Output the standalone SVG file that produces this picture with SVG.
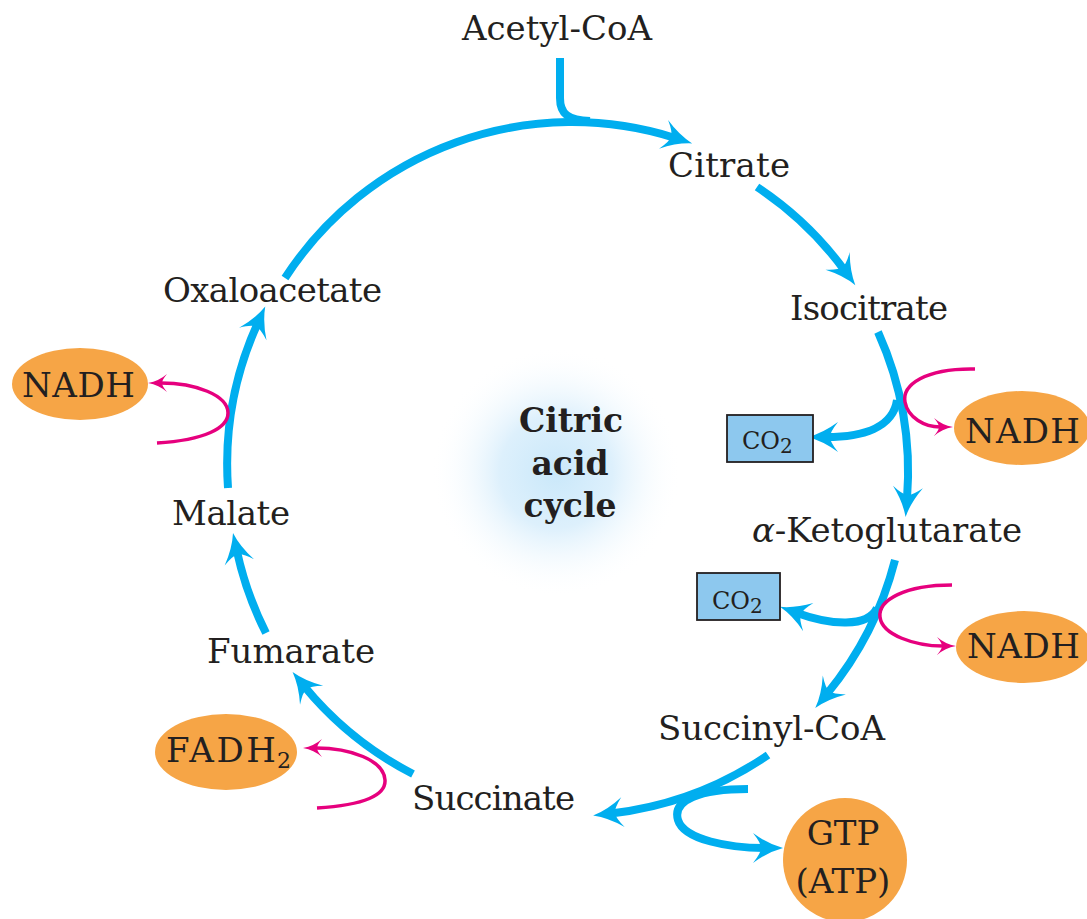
<svg xmlns="http://www.w3.org/2000/svg" width="1087" height="919" viewBox="0 0 1087 919">
<style>
.lbl{font-family:"DejaVu Serif","Liberation Serif",serif;font-size:34px;fill:#231F20;}
.sub{font-size:22px;}
.sm{font-family:"DejaVu Serif","Liberation Serif",serif;font-size:24px;fill:#231F20;}
.ctr{font-family:"DejaVu Serif","Liberation Serif",serif;font-size:33px;font-weight:bold;fill:#231F20;text-anchor:middle;}
.blue{fill:none;stroke:#00AEEF;stroke-width:8;}
.mag{fill:none;stroke:#E6007E;stroke-width:3.5;}
.orange{fill:#F6A546;}
.co2{fill:#8DC8EE;stroke:#231F20;stroke-width:1.8;}
</style>
<defs>
<radialGradient id="glow" cx="556" cy="472" r="125" gradientUnits="userSpaceOnUse">
<stop offset="0" stop-color="#CAE8FA"/>
<stop offset="0.45" stop-color="#DDF0FC"/>
<stop offset="1" stop-color="#FFFFFF" stop-opacity="0"/>
</radialGradient>
<marker id="ab" markerUnits="userSpaceOnUse" orient="auto" refX="0" refY="0" markerWidth="40" markerHeight="40" overflow="visible">
<path d="M18,0 Q3,-4 -12,-15 Q-4,-5 -4,0 Q-4,5 -12,15 Q3,4 18,0 Z" fill="#00AEEF"/>
</marker>
<marker id="am" markerUnits="userSpaceOnUse" orient="auto" refX="0" refY="0" markerWidth="20" markerHeight="20" overflow="visible">
<path d="M13,0 Q2,-2 -6,-9 Q-1,-3 -1,0 Q-1,3 -6,9 Q2,2 13,0 Z" fill="#E6007E"/>
</marker>
</defs>
<rect width="1087" height="919" fill="#FFFFFF"/>
<circle cx="556" cy="472" r="125" fill="url(#glow)"/>

<g id="connectors">
<path class="blue" d="M560 58 L560 98 C560 114 568 120 590 121"/>
<path class="blue" marker-end="url(#ab)" d="M285 278 A342 342 0 0 1 675 138"/>
<path class="blue" marker-end="url(#ab)" d="M757 187 A342 342 0 0 1 844.7 270.6"/>
<path class="blue" marker-end="url(#ab)" d="M878 332 A342 342 0 0 1 907 499"/>
<path class="blue" marker-end="url(#ab)" d="M897 400 C893 428 862 437 826 437"/>
<path class="mag" marker-end="url(#am)" d="M975 369 C925 368 902 385 905 402 C908 418 925 427 940 427"/>
<path class="blue" marker-end="url(#ab)" d="M895 560 A345 345 0 0 1 826.7 694.2"/>
<path class="blue" marker-end="url(#ab)" d="M877 608 C868 628 830 625 797 613"/>
<path class="mag" marker-end="url(#am)" d="M952 585 C905 585 878 600 880 617 C882 635 915 646 943 646"/>
<path class="blue" marker-end="url(#ab)" d="M768 755 A350 350 0 0 1 611 813.5"/>
<path class="blue" marker-end="url(#ab)" d="M748 789 C700 789 672 800 678 820 C684 840 730 848 765 848"/>
<path class="blue" marker-end="url(#ab)" d="M413 774 A345 345 0 0 1 304 686"/>
<path class="mag" marker-end="url(#am)" d="M317 808 C365 805 386 795 385 780 C384 760 350 748 316 748"/>
<path class="blue" marker-end="url(#ab)" d="M266 633 A342 342 0 0 1 236.8 550.6"/>
<path class="blue" marker-end="url(#ab)" d="M228 488 A342 342 0 0 1 257.8 323"/>
<path class="mag" marker-end="url(#am)" d="M157 443 C205 440 228 428 228 413 C228 395 195 383 161 383"/>
</g>

<g id="acetylcoa"><text class="lbl" x="462" y="40" textLength="190">Acetyl-CoA</text></g>
<g id="citrate"><text class="lbl" x="668" y="177" textLength="122">Citrate</text></g>
<g id="isocitrate"><text class="lbl" x="790" y="320" textLength="158">Isocitrate</text></g>
<g id="ketoglutarate"><text class="lbl" x="752" y="542" textLength="270"><tspan font-style="italic">α</tspan>-Ketoglutarate</text></g>
<g id="succinylcoa"><text class="lbl" x="658" y="740" textLength="227">Succinyl-CoA</text></g>
<g id="succinate"><text class="lbl" x="412" y="810" textLength="163">Succinate</text></g>
<g id="fumarate"><text class="lbl" x="207" y="663" textLength="168">Fumarate</text></g>
<g id="malate"><text class="lbl" x="172" y="525" textLength="118">Malate</text></g>
<g id="oxaloacetate"><text class="lbl" x="163" y="302" textLength="219">Oxaloacetate</text></g>

<g id="center">
<text class="ctr" x="571" y="432">Citric</text>
<text class="ctr" x="570" y="475">acid</text>
<text class="ctr" x="570" y="517">cycle</text>
</g>

<g id="nadh-left">
<ellipse class="orange" cx="80" cy="384" rx="68" ry="36"/>
<text class="lbl" x="22" y="397" textLength="113">NADH</text>
</g>
<g id="nadh-right1">
<ellipse class="orange" cx="1022" cy="428" rx="68" ry="37"/>
<text class="lbl" x="965" y="443" textLength="115">NADH</text>
</g>
<g id="nadh-right2">
<ellipse class="orange" cx="1024" cy="647" rx="68" ry="36"/>
<text class="lbl" x="967" y="658" textLength="113">NADH</text>
</g>
<g id="fadh2">
<ellipse class="orange" cx="226" cy="752" rx="71" ry="38"/>
<text class="lbl" x="166" y="762" textLength="110">FADH</text>
<text class="lbl sub" x="277" y="768">2</text>
</g>
<g id="gtp">
<ellipse class="orange" cx="845" cy="860" rx="62" ry="62"/>
<text class="lbl" x="843" y="845" text-anchor="middle">GTP</text>
<text class="lbl" x="843" y="893" text-anchor="middle">(ATP)</text>
</g>
<g id="co2-1">
<rect class="co2" x="727" y="415" width="86" height="47"/>
<text class="sm" x="742" y="449">CO<tspan font-size="20" dy="4">2</tspan></text>
</g>
<g id="co2-2">
<rect class="co2" x="697" y="573" width="83" height="47"/>
<text class="sm" x="712" y="609">CO<tspan font-size="20" dy="4">2</tspan></text>
</g>
</svg>
